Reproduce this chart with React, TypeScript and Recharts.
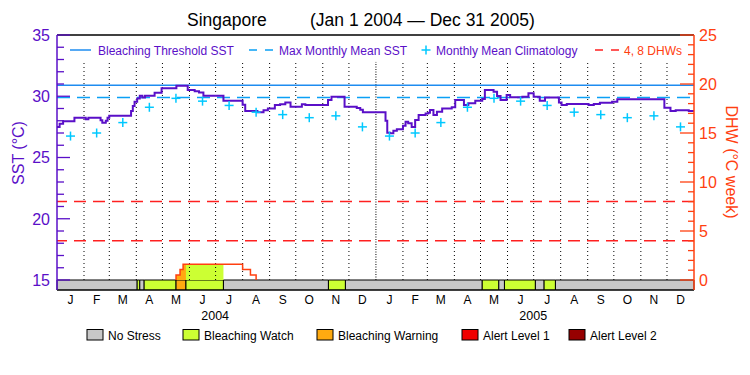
import React from 'react';
import { ComposedChart, Line, Area, XAxis, YAxis, ReferenceLine, ReferenceArea } from 'recharts';

const FONT = '"Liberation Sans", Arial, sans-serif';
const PURPLE = '#5a0fc8';
const DHW_RED = '#ff4010';
const GUIDE_RED = '#ff2020';
const THRESH_BLUE = '#1e8cf0';
const MMM_BLUE = '#0aa0f5';
const CYAN = '#00c8ff';

// day index counted from 1 Jan 2004, SST in degC (stepped)
const sstDays = [
  0, 3, 7, 20, 33, 36, 50, 52, 56, 58, 60, 85, 87, 89, 92, 95, 98, 101, 112, 120,
  137, 150, 158, 163, 168, 191, 213, 216, 230, 237, 242, 250, 256, 262, 268, 281,
  285, 311, 315, 330, 344, 348, 351, 377, 379, 382, 386, 390, 397, 400, 403, 407,
  411, 415, 423, 426, 428, 432, 436, 442, 453, 457, 463, 467, 472, 480, 488, 491,
  501, 505, 509, 516, 520, 534, 541, 547, 554, 560, 576, 579, 585, 610, 616, 623,
  637, 643, 697, 704, 710, 725, 731,
];
const sstValues = [
  27.5, 27.75, 27.95, 28.25, 28.12, 28.25, 28.05, 27.84, 28.0, 28.25, 28.41, 28.8, 29.2, 29.56, 29.82, 30.05, 29.9, 30.05, 30.29, 30.65,
  30.86, 30.51, 30.4, 30.3, 30.05, 29.64, 29.3, 28.8, 28.69, 28.85, 29.0, 29.29, 29.34, 29.5, 29.15, 29.34,
  29.29, 29.7, 29.96, 29.15, 29.05, 28.9, 28.69, 28.0, 27.03, 26.97, 27.19, 27.3, 27.6, 27.92, 27.79, 27.5,
  28.06, 28.47, 28.6, 28.66, 28.88, 28.47, 28.74, 29.0, 29.1, 29.7, 29.7, 29.29, 29.42, 29.64, 29.78, 30.51,
  30.37, 30.02, 29.7, 30.1, 29.91, 29.96, 30.24, 29.96, 29.64, 29.9, 29.5, 29.29, 29.37, 29.29, 29.37, 29.47,
  29.56, 29.75, 29.07, 28.8, 28.85, 28.8, 28.8,
];

// monthly mean climatology, Jan..Dec
const climMonthly = [26.75, 27.0, 27.85, 29.1, 29.83, 29.6, 29.25, 28.7, 28.5, 28.25, 28.4, 27.5];

// degree heating weeks (stepped), only the non-zero episode
const dhwDays = [136.6, 136.6, 141.2, 144.7, 213, 222, 228.5];
const dhwValues = [0, 0.5, 1.07, 1.6, 1.07, 0.5, 0];

const bleachingThreshold = 30.9;
const maxMonthlyMean = 29.9;
const dhwGuides = [4, 8];

const stressStarts = [0, 92, 95, 100, 136.6, 148, 191, 311.5, 331, 488, 507, 513.5, 549, 559, 572];
const stressLevels = [0, 1, 0, 1, 2, 1, 0, 1, 0, 1, 0, 1, 0, 1, 0];
const END_DAY = 731;

const stressNames = ['No Stress', 'Bleaching Watch', 'Bleaching Warning', 'Alert Level 1', 'Alert Level 2'];
const stressColors = ['#c8c8c8', '#ccff33', '#ffaa10', '#f00000', '#960000'];
const stressLegendX = [87, 183, 317, 462, 569];

const monthLetters = ['J', 'F', 'M', 'A', 'M', 'J', 'J', 'A', 'S', 'O', 'N', 'D'];
const years = ['2004', '2005'];

const leftTicks = Array.from({ length: 21 }, (_, i) => 15 + i);
const rightTicks = Array.from({ length: 26 }, (_, i) => i);

const leftDomain = [15 - 10 * (20 / 245), 35];
const rightDomain = [-10 * (25 / 245), 25];

const dayOf = (y: number, m: number) => (Date.UTC(y, m, 1) - Date.UTC(2004, 0, 1)) / 86400000;
const monthStarts = Array.from({ length: 25 }, (_, i) => dayOf(2004, i));
const monthMids = monthStarts.slice(0, 24).map((s, i) => (s + monthStarts[i + 1]) / 2);
const yearMids = [dayOf(2004, 6) - 0.5, dayOf(2005, 6) - 0.5];
const yearStart2005 = dayOf(2005, 0);

const sstData = sstDays.map((d, i) => ({ day: d, sst: sstValues[i] }));
const climData = monthMids.map((d, i) => ({ day: d, clim: climMonthly[i % 12] }));
const dhwData = dhwDays.map((d, i) => ({ day: d, dhw: dhwValues[i] }));

const stressSegs = stressStarts.map((s, i) => ({
  start: s,
  end: i + 1 < stressStarts.length ? stressStarts[i + 1] : END_DAY,
  level: stressLevels[i],
}));

const dhwAt = (d: number) => {
  let v = 0;
  dhwDays.forEach((x, i) => { if (x <= d) v = dhwValues[i]; });
  return v;
};

// area under the DHW curve coloured by stress level
const dhwFills = stressSegs
  .filter(s => s.level > 0)
  .map(s => {
    const pts = [{ day: s.start, fill: dhwAt(s.start) }];
    dhwDays.forEach((d, i) => { if (d > s.start && d < s.end) pts.push({ day: d, fill: dhwValues[i] }); });
    pts.push({ day: s.end, fill: dhwAt(s.end - 1e-6) });
    return { ...s, pts };
  })
  .filter(s => s.pts.some(p => p.fill > 0));

const LeftTick = (props: any) => {
  const { x, y, payload } = props;
  const major = payload.value % 5 === 0;
  const ax = x + 7;
  return (
    <g>
      <line x1={ax} x2={ax + (major ? 13 : 7)} y1={y} y2={y} stroke={PURPLE} strokeWidth={1.3} />
      {major && (
        <text x={x} y={y} dy="0.36em" textAnchor="end" fill={PURPLE} fontSize={16} fontFamily={FONT}>
          {payload.value}
        </text>
      )}
    </g>
  );
};

const RightTick = (props: any) => {
  const { x, y, payload } = props;
  const major = payload.value % 5 === 0;
  const ax = x - 5;
  return (
    <g>
      <line x1={ax} x2={ax - (major ? 14 : 6)} y1={y} y2={y} stroke={DHW_RED} strokeWidth={1.3} />
      {major && (
        <text x={x} y={y} dy="0.36em" textAnchor="start" fill={DHW_RED} fontSize={16} fontFamily={FONT}>
          {payload.value}
        </text>
      )}
    </g>
  );
};

const Cross = (props: any) => {
  const { cx, cy } = props;
  if (cx == null || cy == null) return null;
  return (
    <g>
      <line x1={cx - 4.5} x2={cx + 4.5} y1={cy} y2={cy} stroke={CYAN} strokeWidth={1.5} />
      <line x1={cx} x2={cx} y1={cy - 4.5} y2={cy + 4.5} stroke={CYAN} strokeWidth={1.5} />
    </g>
  );
};

const Overlay = () => (
  <svg width={750} height={375} style={{ position: 'absolute', left: 0, top: 0, pointerEvents: 'none' }} fontFamily={FONT}>
    <text x={187} y={26} fontSize={17.5} fill="#000">Singapore</text>
    <text x={310} y={26} fontSize={17.5} fill="#000">(Jan 1 2004 — Dec 31 2005)</text>

    <text transform="translate(18,153) rotate(-90)" textAnchor="middle" dominantBaseline="central" fontSize={16} fill={PURPLE}>SST (°C)</text>
    <text transform="translate(731,162) rotate(90)" textAnchor="middle" dominantBaseline="central" fontSize={16} fill={DHW_RED}>DHW (°C week)</text>

    <line x1={70} x2={91} y1={50} y2={50} stroke={THRESH_BLUE} strokeWidth={1.5} />
    <text x={98} y={54.5} fontSize={12} fill={PURPLE}>Bleaching Threshold SST</text>
    <line x1={249} x2={273} y1={50} y2={50} stroke={MMM_BLUE} strokeWidth={1.5} strokeDasharray="8 8" />
    <text x={279} y={54.5} fontSize={12} fill={PURPLE}>Max Monthly Mean SST</text>
    <Cross cx={426} cy={50} />
    <text x={436} y={54.5} fontSize={12} fill={PURPLE}>Monthly Mean Climatology</text>
    <line x1={595} x2={619} y1={50} y2={50} stroke={GUIDE_RED} strokeWidth={1.5} strokeDasharray="8 8" />
    <text x={624} y={54.5} fontSize={12} fill={DHW_RED}>4, 8 DHWs</text>

    {stressNames.map((name, i) => (
      <g key={name}>
        <rect x={stressLegendX[i]} y={329.5} width={16} height={10.5} fill={stressColors[i]} stroke="#000" strokeWidth={1} />
        <text x={stressLegendX[i] + 21} y={340} fontSize={12} fill="#000">{name}</text>
      </g>
    ))}
  </svg>
);

export default function App() {
  return (
    <div style={{ position: 'absolute', left: 0, top: 0, width: 750, height: 375, background: '#fff' }}>
      <ComposedChart width={750} height={375} margin={{ top: 35, right: 0, bottom: 0, left: 0 }}>
        <XAxis
          xAxisId="m"
          dataKey="day"
          type="number"
          domain={[0, END_DAY]}
          allowDataOverflow
          ticks={monthMids}
          tickFormatter={(v: number) => monthLetters[monthMids.indexOf(v) % 12]}
          height={15}
          tickLine={false}
          tickSize={0}
          tickMargin={5}
          axisLine={{ stroke: '#000', strokeWidth: 1 }}
          tick={{ fill: '#000', fontSize: 12, fontFamily: FONT }}
          interval={0}
        />
        <XAxis
          xAxisId="y"
          dataKey="day"
          type="number"
          domain={[0, END_DAY]}
          allowDataOverflow
          ticks={yearMids}
          tickFormatter={(v: number) => years[yearMids.indexOf(v)]}
          height={70}
          tickLine={false}
          tickSize={0}
          tickMargin={6}
          axisLine={false}
          tick={{ fill: '#000', fontSize: 12.5, fontFamily: FONT }}
          interval={0}
        />
        <YAxis
          yAxisId="sst"
          orientation="left"
          type="number"
          domain={leftDomain}
          allowDataOverflow
          ticks={leftTicks}
          interval={0}
          width={57}
          tickLine={false}
          tickSize={0}
          tickMargin={7}
          axisLine={{ stroke: PURPLE, strokeWidth: 1.5 }}
          tick={<LeftTick />}
        />
        <YAxis
          yAxisId="dhw"
          orientation="right"
          type="number"
          domain={rightDomain}
          allowDataOverflow
          ticks={rightTicks}
          interval={0}
          width={56}
          tickLine={false}
          tickSize={0}
          tickMargin={5}
          axisLine={{ stroke: DHW_RED, strokeWidth: 1.5 }}
          tick={<RightTick />}
        />

        {monthStarts.slice(1, 24).map((d, i) => (
          <ReferenceLine
            key={`ml${i}`}
            xAxisId="m"
            yAxisId="sst"
            segment={[{ x: d, y: 15 }, { x: d, y: 32.8 }]}
            stroke="#000"
            strokeWidth={1}
            strokeDasharray={d === yearStart2005 ? '1 1.5' : '1 3'}
          />
        ))}

        {stressSegs.map((s, i) => (
          <ReferenceArea
            key={`s${i}`}
            xAxisId="m"
            yAxisId="sst"
            x1={s.start}
            x2={s.end}
            y1={leftDomain[0]}
            y2={15}
            fill={stressColors[s.level]}
            fillOpacity={1}
            stroke="#000"
            strokeWidth={1}
            ifOverflow="visible"
          />
        ))}

        {dhwFills.map((s, i) => (
          <Area
            key={`f${i}`}
            xAxisId="m"
            yAxisId="dhw"
            data={s.pts}
            dataKey="fill"
            type="stepAfter"
            stroke="none"
            fill={stressColors[s.level]}
            fillOpacity={1}
            isAnimationActive={false}
          />
        ))}

        <ReferenceLine xAxisId="m" yAxisId="sst" y={35} stroke="#000" strokeWidth={1.5} />
        <ReferenceLine xAxisId="m" yAxisId="sst" y={bleachingThreshold} stroke={THRESH_BLUE} strokeWidth={1.5} />
        <ReferenceLine xAxisId="m" yAxisId="sst" y={maxMonthlyMean} stroke={MMM_BLUE} strokeWidth={1.5} strokeDasharray="13 7" />
        {dhwGuides.map(g => (
          <ReferenceLine key={`g${g}`} xAxisId="m" yAxisId="dhw" y={g} stroke={GUIDE_RED} strokeWidth={1.5} strokeDasharray="12 7" />
        ))}

        <Line
          xAxisId="m"
          yAxisId="dhw"
          data={dhwData}
          dataKey="dhw"
          type="stepAfter"
          stroke={DHW_RED}
          strokeWidth={1.5}
          dot={false}
          isAnimationActive={false}
        />
        <Line
          xAxisId="m"
          yAxisId="sst"
          data={sstData}
          dataKey="sst"
          type="stepAfter"
          stroke={PURPLE}
          strokeWidth={2}
          dot={false}
          isAnimationActive={false}
        />
        <Line
          xAxisId="m"
          yAxisId="sst"
          data={climData}
          dataKey="clim"
          stroke="none"
          dot={(p: any) => <Cross key={`c${p.index}`} {...p} />}
          isAnimationActive={false}
        />
      </ComposedChart>
      <Overlay />
    </div>
  );
}
